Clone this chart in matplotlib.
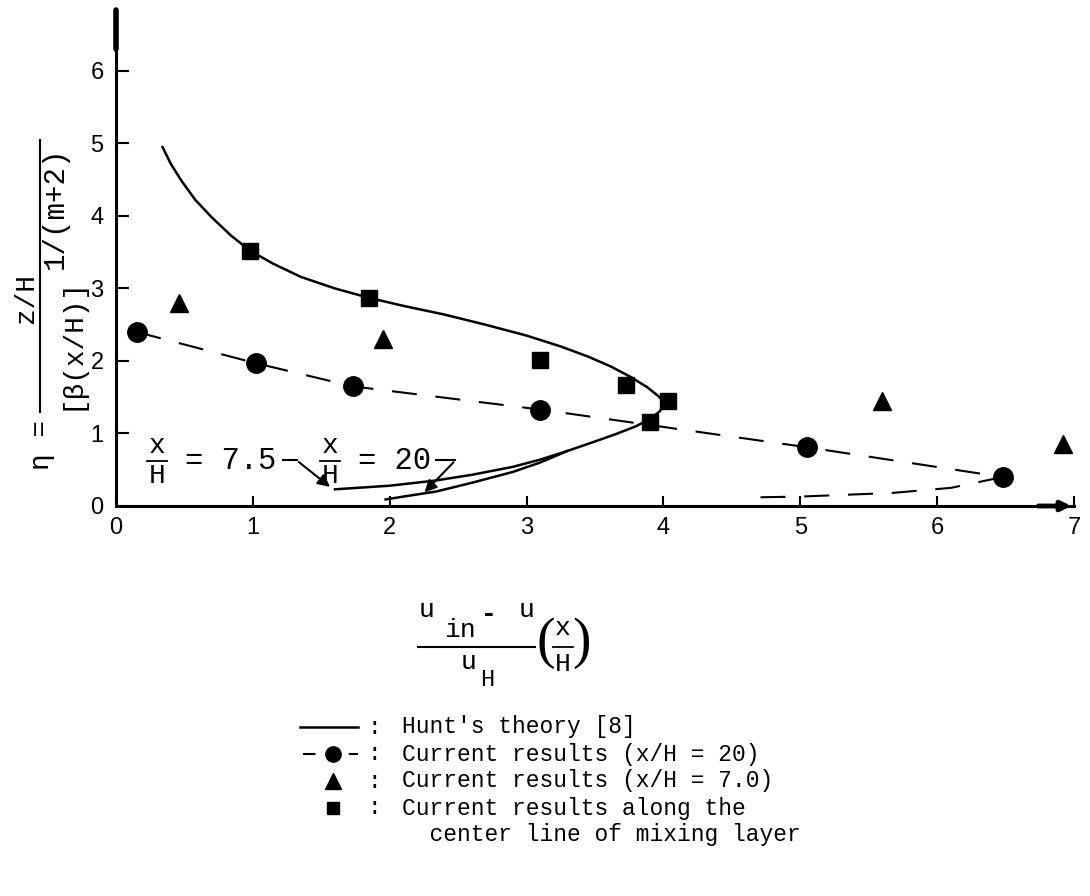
import matplotlib
matplotlib.use("Agg")
import matplotlib.pyplot as plt

plt.rcParams['font.family'] = ['Liberation Mono', 'DejaVu Sans']

# Hunt's theory [8] (upper part shared, lower end = x/H = 7.5 branch)
hunt_x = [0.34, 0.4, 0.48, 0.58, 0.7, 0.84, 0.98, 1.15, 1.35, 1.6, 1.85, 2.1, 2.4, 2.7,
          3.0, 3.25, 3.45, 3.62, 3.76, 3.88, 3.96, 4.0, 4.0, 3.97, 3.9, 3.8, 3.65, 3.5,
          3.3, 3.1, 2.9, 2.6, 2.33, 2.0, 1.6]
hunt_y = [4.95, 4.72, 4.48, 4.22, 3.98, 3.73, 3.52, 3.34, 3.16, 3.0, 2.87, 2.76, 2.64, 2.5,
          2.35, 2.2, 2.06, 1.92, 1.78, 1.64, 1.52, 1.44, 1.38, 1.3, 1.2, 1.1, 0.99, 0.89,
          0.76, 0.64, 0.54, 0.43, 0.35, 0.28, 0.23]
# Hunt's theory, x/H = 20 lower branch
hunt20_x = [3.3, 3.1, 2.9, 2.6, 2.34, 2.1, 1.97]
hunt20_y = [0.76, 0.6, 0.47, 0.32, 0.2, 0.13, 0.09]

# current results x/H = 20 (circles + dashed)
c20_x = [0.15, 1.02, 1.73, 3.1, 5.05, 6.48]
c20_y = [2.4, 1.97, 1.65, 1.33, 0.81, 0.4]
c20_tail_x = [6.48, 6.1, 5.67, 5.0, 4.7]
c20_tail_y = [0.4, 0.25, 0.18, 0.13, 0.12]

# current results x/H = 7.0 (triangles)
c7_x = [0.46, 1.95, 5.6, 6.92]
c7_y = [2.8, 2.3, 1.45, 0.85]

# center line of mixing layer (squares)
cl_x = [0.98, 1.85, 3.1, 3.73, 4.03, 3.9]
cl_y = [3.52, 2.87, 2.02, 1.67, 1.45, 1.16]

xticks = [0, 1, 2, 3, 4, 5, 6, 7]
yticks = [0, 1, 2, 3, 4, 5, 6]

legend_labels = ["Hunt's theory [8]",
                 "Current results (x/H = 20)",
                 "Current results (x/H = 7.0)",
                 "Current results along the",
                 "  center line of mixing layer"]

W, H = 1090, 896
fig = plt.figure(figsize=(W / 100, H / 100), dpi=100)
ax = fig.add_axes([116 / W, (H - 506) / H, (1074 - 116) / W, 496 / H])
ax.set_xlim(0, 7)
ax.set_ylim(0, 6.84)

dash = (12, 9)
ax.plot(hunt_x, hunt_y, color='black', lw=1.8)
ax.plot(hunt20_x, hunt20_y, color='black', lw=1.8)
ax.plot(c20_x, c20_y, color='black', lw=1.5, dashes=dash)
ax.plot(c20_tail_x, c20_tail_y, color='black', lw=1.5, dashes=dash)
ax.plot(c20_x, c20_y, 'o', color='black', ms=14, ls='none')
ax.plot(c7_x, c7_y, '^', color='black', ms=13, ls='none')
ax.plot(cl_x, cl_y, 's', color='black', ms=12, ls='none')

# leaders for the two Hunt branches
ax.plot([1.22, 1.32], [0.63, 0.63], color='black', lw=1.5)
ax.annotate('', xy=(1.58, 0.24), xytext=(1.32, 0.63),
            arrowprops=dict(arrowstyle='-|>', color='black', lw=1.5, mutation_scale=18))
ax.plot([2.34, 2.48], [0.63, 0.63], color='black', lw=1.5)
ax.annotate('', xy=(2.24, 0.16), xytext=(2.48, 0.63),
            arrowprops=dict(arrowstyle='-|>', color='black', lw=1.5, mutation_scale=18))

for side in ['top', 'right']:
    ax.spines[side].set_visible(False)
for side in ['left', 'bottom']:
    ax.spines[side].set_linewidth(2.2)
ax.set_xticks(xticks)
ax.set_yticks(yticks)
ax.tick_params(axis='both', direction='in', width=1.5, labelsize=17)
ax.tick_params(axis='x', length=7, pad=8)
ax.tick_params(axis='y', length=9, pad=9)
for lab in ax.get_xticklabels() + ax.get_yticklabels():
    lab.set_family('Liberation Sans')

# thick top of y axis and arrow on x axis
ax.plot([0, 0], [6.3, 6.84], color='black', lw=4, clip_on=False, solid_capstyle='round')
ax.annotate('', xy=(7.0, 0), xytext=(6.72, 0),
            arrowprops=dict(arrowstyle='-|>', color='black', lw=3.5, mutation_scale=14),
            annotation_clip=False)

# overlay in pixel coordinates for labels and legend
ov = fig.add_axes([0, 0, 1, 1])
ov.set_xlim(0, W)
ov.set_ylim(H, 0)
ov.axis('off')


def frac_xh(cx, cy, fs, half):
    ov.text(cx, cy - 15, 'x', fontsize=fs, ha='center', va='center')
    ov.plot([cx - half, cx + half], [cy, cy], color='black', lw=1.3)
    ov.text(cx, cy + 15, 'H', fontsize=fs, ha='center', va='center')


# branch annotations
frac_xh(157, 461, 20, 10)
ov.text(185, 461, '= 7.5', fontsize=22, ha='left', va='center')
frac_xh(330, 461, 20, 10)
ov.text(358, 461, '= 20', fontsize=22, ha='left', va='center')

# y label: eta = (z/H) / [beta(x/H)]^(1/(m+2))
ov.text(42, 445, u'\u03b7 =', rotation=90, fontsize=20, ha='center', va='center')
ov.text(26, 298, 'z/H', rotation=90, fontsize=20, ha='center', va='center')
ov.plot([40, 40], [140, 412], color='black', lw=1.5)
ov.text(72, 343, u'[\u03b2(x/H)]', rotation=90, fontsize=20, ha='center', va='center')
ov.text(55, 208, '1/(m+2)', rotation=90, fontsize=21, ha='center', va='center')

# x label: (u_in - u)/u_H * (x/H)
fs = 19
ov.text(427, 610, 'u', fontsize=fs, ha='center', va='center')
ov.text(460, 630, 'in', fontsize=fs, ha='center', va='center')
ov.text(489, 614, '-', fontsize=fs, ha='center', va='center', fontweight='bold')
ov.text(527, 610, 'u', fontsize=fs, ha='center', va='center')
ov.plot([418, 535], [647, 647], color='black', lw=1.5)
ov.text(469, 662, 'u', fontsize=fs, ha='center', va='center')
ov.text(487, 680, 'H', fontsize=fs - 2, ha='center', va='center')
ov.text(546, 643, '(', fontsize=40, ha='center', va='center', family='Liberation Serif')
ov.text(581, 643, ')', fontsize=40, ha='center', va='center', family='Liberation Serif')
ov.text(563, 628, 'x', fontsize=fs, ha='center', va='center')
ov.plot([553, 573], [647, 647], color='black', lw=1.3)
ov.text(563, 664, 'H', fontsize=fs, ha='center', va='center')

# legend
rows = [727, 754, 781, 808, 834]
ov.plot([300, 358], [rows[0], rows[0]], color='black', lw=1.8)
ov.plot([303, 358], [rows[1], rows[1]], color='black', lw=1.5, dashes=(6, 5))
ov.plot([333], [rows[1]], 'o', color='black', ms=11)
ov.plot([333], [rows[2]], '^', color='black', ms=11)
ov.plot([333], [rows[3]], 's', color='black', ms=9)
for r in rows[:4]:
    ov.text(374, r, ':', fontsize=16.5, ha='center', va='center')
for r, lab in zip(rows, legend_labels):
    ov.text(402, r, lab, fontsize=16.5, ha='left', va='center')

fig.savefig('out.png', dpi=100)
